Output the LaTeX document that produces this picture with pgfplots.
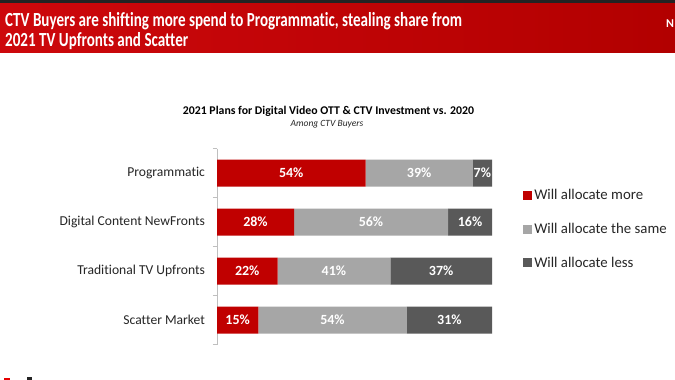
\documentclass[border=0pt]{standalone}
\usepackage{fontspec}
\setmainfont{Carlito}[Ligatures={NoCommon}]
\usepackage{pgfplots}
\pgfplotsset{compat=1.18}
\definecolor{cred}{RGB}{192,0,0}
\definecolor{clgray}{RGB}{166,166,166}
\definecolor{cdgray}{RGB}{89,89,89}
\definecolor{hredL}{RGB}{205,8,12}
\definecolor{hredR}{RGB}{178,0,0}
\definecolor{hdark}{RGB}{35,35,35}
\definecolor{txt}{RGB}{38,38,38}
\newsavebox\titlebox
\begin{document}
\sbox\titlebox{\color{white}\fontsize{20}{24}\selectfont\bfseries CTV Buyers are shifting more spend to Programmatic, stealing share from}%
\pgfmathsetmacro\sx{457/\the\wd\titlebox}%
\begin{tikzpicture}[x=1pt,y=1pt]
\path[use as bounding box] (0,0) rectangle (675,380);
\fill[white] (0,0) rectangle (675,380);
\shade[left color=hredL, right color=hredR] (0,327) rectangle (675,377);
\fill[hdark] (0,377) rectangle (675,380);
\node[anchor=base west, inner sep=0pt] at (5,353) {\scalebox{\sx}[1]{\usebox\titlebox}};
\node[anchor=base west, inner sep=0pt, text=white] at (5,333) {\scalebox{\sx}[1]{\fontsize{20}{24}\selectfont\bfseries 2021 TV Upfronts and Scatter}};
\node[anchor=base west, inner sep=0pt, text=white] at (666,352) {\fontsize{12}{14}\selectfont\bfseries N};
\node[anchor=base, inner sep=0pt, text=black] at (328.5,265.5) {\fontsize{11.8}{13}\selectfont\bfseries 2021 Plans for Digital Video OTT \& CTV Investment vs. 2020};
\node[anchor=base, inner sep=0pt, text=txt] at (327,253.5) {\fontsize{9.5}{11}\selectfont\itshape Among CTV Buyers};
\fill[red!90!black] (4,0) rectangle (10,2);
\fill[hdark] (27,0) rectangle (32,3);
\begin{axis}[
  at={(217pt,35.5pt)}, anchor=south west,
  scale only axis, width=275pt, height=196pt,
  xbar stacked, bar width=27pt,
  xmin=0, xmax=100, ymin=-0.5, ymax=3.5, y dir=reverse,
  ytick={0,1,2,3},
  yticklabels={Programmatic, Digital Content NewFronts, Traditional TV Upfronts, Scatter Market},
  minor ytick={-0.5,0.5,1.5,2.5,3.5},
  major tick length=0pt, minor tick length=4pt, tick align=outside,
  axis y line*=left, axis x line=none,
  y axis line style={draw=black!25},
  minor tick style={draw=black!25},
  yticklabel style={font=\fontsize{13.6}{16}\selectfont, text=txt, xshift=-8.5pt},
  /pgf/number format/assume math mode=true,
  point meta=explicit,
  nodes near coords={\pgfmathprintnumber{\pgfplotspointmeta}\%},
  every node near coord/.append style={font=\fontsize{14}{16}\selectfont\bfseries, text=white},
  legend style={draw=none, fill=none, at={(1.102,0.589)}, anchor=west,
    font=\fontsize{14.8}{17}\selectfont, text=txt, row sep=18pt, cells={anchor=west}},
  legend image code/.code={\fill[#1,draw=none] (0pt,-4.5pt) rectangle (9pt,4.5pt);},
]
\addplot[fill=cred, draw=none] coordinates {(54,0) [54] (28,1) [28] (22,2) [22] (15,3) [15]};
\addplot[fill=clgray, draw=none] coordinates {(39,0) [39] (56,1) [56] (41,2) [41] (54,3) [54]};
\addplot[fill=cdgray, draw=none] coordinates {(7,0) [7] (16,1) [16] (37,2) [37] (31,3) [31]};
\legend{Will allocate more, Will allocate the same, Will allocate less}
\end{axis}
\end{tikzpicture}
\end{document}
